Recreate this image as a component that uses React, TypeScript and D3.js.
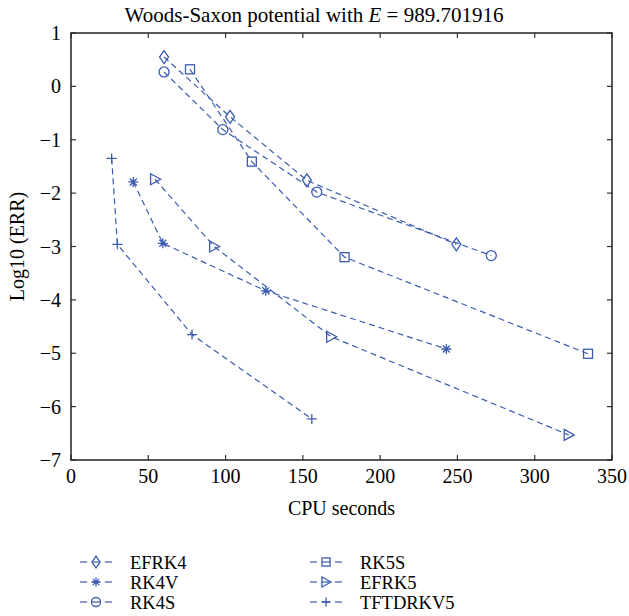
import React from "react";
import * as d3 from "d3";

const seriesNames = ["EFRK4", "RK4V", "RK4S", "RK5S", "EFRK5", "TFTDRKV5"];
const seriesMarkers = ["diamond", "star", "circle", "square", "triangle", "plus"];

const efrk4X = [60.2, 102.9, 152.6, 249.3];
const efrk4Y = [0.55, -0.57, -1.76, -2.96];
const rk4vX = [40.3, 59.4, 126, 242.8];
const rk4vY = [-1.79, -2.94, -3.83, -4.92];
const rk4sX = [60.2, 98.2, 159, 271.9];
const rk4sY = [0.27, -0.81, -1.98, -3.17];
const rk5sX = [77, 117, 177, 334.5];
const rk5sY = [0.32, -1.41, -3.2, -5.01];
const efrk5X = [54.4, 92.6, 168.3, 322];
const efrk5Y = [-1.74, -3.0, -4.69, -6.53];
const tftX = [26.3, 30, 78.3, 155.8];
const tftY = [-1.35, -2.96, -4.65, -6.23];

const seriesX = [efrk4X, rk4vX, rk4sX, rk5sX, efrk5X, tftX];
const seriesY = [efrk4Y, rk4vY, rk4sY, rk5sY, efrk5Y, tftY];

const xTicks = [0, 50, 100, 150, 200, 250, 300, 350];
const yTicks = [1, 0, -1, -2, -3, -4, -5, -6, -7];

const COLOR = "#3d5bb0";
const FONT = '"Liberation Serif", "Times New Roman", "DejaVu Serif", serif';

function Marker({ type, x, y, s = 1 }: { type: string; x: number; y: number; s?: number }) {
  const c = { fill: "none", stroke: COLOR, strokeWidth: 1.3 };
  switch (type) {
    case "diamond":
      return <path d={`M${x},${y - 6.5 * s}L${x + 4.5 * s},${y}L${x},${y + 6.5 * s}L${x - 4.5 * s},${y}Z`} {...c} />;
    case "circle":
      return <circle cx={x} cy={y} r={5 * s} {...c} />;
    case "square":
      return <rect x={x - 4.5 * s} y={y - 4.5 * s} width={9 * s} height={9 * s} {...c} />;
    case "triangle":
      return <path d={`M${x - 4.5 * s},${y - 5.5 * s}L${x + 5.5 * s},${y}L${x - 4.5 * s},${y + 5.5 * s}Z`} {...c} />;
    case "plus":
      return <path d={`M${x - 5 * s},${y}H${x + 5 * s}M${x},${y - 5 * s}V${y + 5 * s}`} {...c} />;
    case "star":
      return (
        <path
          d={`M${x - 5 * s},${y}H${x + 5 * s}M${x},${y - 5 * s}V${y + 5 * s}M${x - 3.5 * s},${y - 3.5 * s}L${x + 3.5 * s},${y + 3.5 * s}M${x - 3.5 * s},${y + 3.5 * s}L${x + 3.5 * s},${y - 3.5 * s}`}
          {...c}
        />
      );
  }
  return null;
}

export default function App() {
  const W = 629;
  const H = 616;
  const left = 71, right = 612, top = 33, bottom = 460;
  const x = d3.scaleLinear().domain([0, 350]).range([left, right]);
  const y = d3.scaleLinear().domain([-7, 1]).range([bottom, top]);
  const line = d3.line<[number, number]>().x((d) => x(d[0])).y((d) => y(d[1]));

  const legendPos = [
    [80, 562], [80, 582], [80, 602],
    [310, 562], [310, 582], [310, 602],
  ];

  return (
    <svg width={W} height={H} style={{ position: "absolute", left: 0, top: 0, fontFamily: FONT }}>
      <rect width={W} height={H} fill="white" />
      <text x={314} y={22} textAnchor="middle" fontSize={21}>
        Woods-Saxon potential with <tspan fontStyle="italic">E</tspan>  = 989.701916
      </text>
      {xTicks.map((t) => (
        <g key={"xt" + t}>
          <line x1={x(t)} x2={x(t)} y1={bottom} y2={bottom - 5} stroke="#333" strokeWidth={1.2} />
          <line x1={x(t)} x2={x(t)} y1={top} y2={top + 5} stroke="#333" strokeWidth={1.2} />
          <text x={x(t)} y={bottom + 23} textAnchor="middle" fontSize={20}>{t}</text>
        </g>
      ))}
      {yTicks.map((t) => (
        <g key={"yt" + t}>
          <line x1={left} x2={left + 5} y1={y(t)} y2={y(t)} stroke="#333" strokeWidth={1.2} />
          <line x1={right} x2={right - 5} y1={y(t)} y2={y(t)} stroke="#333" strokeWidth={1.2} />
          <text x={left - 10} y={y(t) + 7} textAnchor="end" fontSize={20}>
            {t < 0 ? "\u2212" + Math.abs(t) : String(t)}
          </text>
        </g>
      ))}
      <rect x={left} y={top} width={right - left} height={bottom - top} fill="none" stroke="#222" strokeWidth={1.5} />
      <text x={(left + right) / 2} y={515} textAnchor="middle" fontSize={20}>CPU seconds</text>
      <text transform={`translate(24,${(top + bottom) / 2}) rotate(-90)`} textAnchor="middle" fontSize={20}>
        Log10 (ERR)
      </text>
      {seriesNames.map((name, i) => {
        const pts = seriesX[i].map((v, j) => [v, seriesY[i][j]] as [number, number]);
        return (
          <g key={name}>
            <path d={line(pts) || ""} fill="none" stroke={COLOR} strokeWidth={1.2} strokeDasharray="6,4" />
            {pts.map((p, j) => (
              <Marker key={j} type={seriesMarkers[i]} x={x(p[0])} y={y(p[1])} />
            ))}
          </g>
        );
      })}
      {seriesNames.map((name, i) => {
        const [lx, ly] = legendPos[i];
        const cx = lx + 16;
        return (
          <g key={"lg" + name}>
            <line x1={lx} x2={lx + 7} y1={ly} y2={ly} stroke={COLOR} strokeWidth={1.2} />
            <line x1={cx - 4} x2={cx + 4} y1={ly} y2={ly} stroke={COLOR} strokeWidth={1.2} />
            <line x1={lx + 25} x2={lx + 32} y1={ly} y2={ly} stroke={COLOR} strokeWidth={1.2} />
            <Marker type={seriesMarkers[i]} x={cx} y={ly} s={0.9} />
            <text x={lx + 50} y={ly + 6.5} fontSize={18.5}>{name}</text>
          </g>
        );
      })}
    </svg>
  );
}
